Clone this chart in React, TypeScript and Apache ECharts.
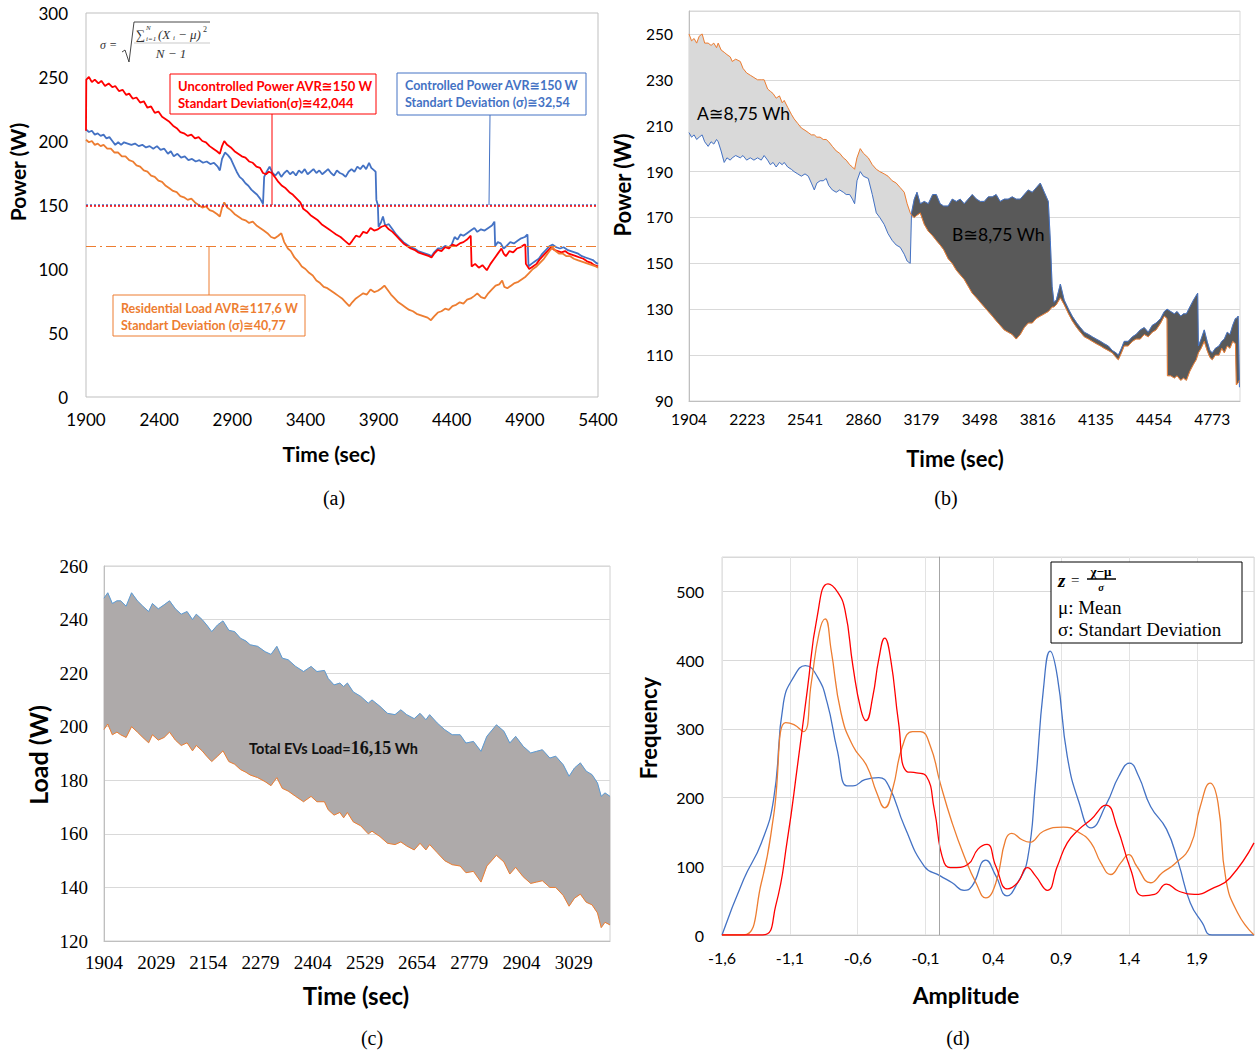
import React, { useEffect, useRef } from 'react';
import * as echarts from 'echarts';

// ---------- (a) ----------
const aControlled: number[][] = [[1900,209],[1920,207],[1940,208],[1960,205],[1980,206],[2000,204],[2020,205],[2040,202],[2060,203],[2080,200],[2100,197],[2120,199],[2140,197],[2160,199],[2185,198],[2210,197],[2235,198],[2260,196],[2285,197],[2310,195],[2335,196],[2360,194],[2385,196],[2410,193],[2435,194],[2460,190],[2480,192],[2500,188],[2525,190],[2550,187],[2575,188],[2600,185],[2625,186],[2650,184],[2675,185],[2700,183],[2725,184],[2750,182],[2775,183],[2800,180],[2815,177],[2830,186],[2850,191],[2870,189],[2890,186],[2910,181],[2930,176],[2950,172],[2970,170],[2990,167],[3010,165],[3030,162],[3050,160],[3070,158],[3090,155],[3110,151],[3114,151],[3118,172],[3135,176],[3155,180],[3175,175],[3195,173],[3215,176],[3235,172],[3255,175],[3275,177],[3295,174],[3315,176],[3335,173],[3355,177],[3375,175],[3395,178],[3415,174],[3435,176],[3455,178],[3475,175],[3495,177],[3515,174],[3535,176],[3555,178],[3575,175],[3595,173],[3615,177],[3635,175],[3655,174],[3675,172],[3695,176],[3715,178],[3735,176],[3755,180],[3775,178],[3795,181],[3815,178],[3835,183],[3850,179],[3870,177],[3880,176],[3885,154],[3895,150],[3900,133],[3915,136],[3930,141],[3945,134],[3970,135],[3995,131],[4020,127],[4045,124],[4070,121],[4095,119],[4120,117],[4145,116],[4170,114],[4195,113],[4220,112],[4245,111],[4262,110],[4280,113],[4305,116],[4330,116],[4355,118],[4380,117],[4400,119],[4420,125],[4440,123],[4460,127],[4480,126],[4505,128],[4530,130],[4555,132],[4575,129],[4600,131],[4625,130],[4650,132],[4675,134],[4692,137],[4697,118],[4715,121],[4735,120],[4755,116],[4775,118],[4800,121],[4825,120],[4850,122],[4875,124],[4900,125],[4918,127],[4925,102],[4945,104],[4970,106],[4995,108],[5020,112],[5045,115],[5070,118],[5090,119],[5115,117],[5140,116],[5165,117],[5190,115],[5215,114],[5240,113],[5265,112],[5290,110],[5315,109],[5340,108],[5365,107],[5385,105],[5400,104]];
const aUncontrolled: number[][] = [[1900,208],[1902,248],[1920,250],[1940,246],[1960,248],[1985,245],[2005,247],[2030,243],[2055,245],[2080,242],[2100,243],[2125,239],[2150,240],[2175,236],[2195,237],[2220,233],[2245,234],[2270,230],[2295,231],[2320,226],[2345,227],[2370,222],[2395,223],[2420,219],[2445,217],[2470,215],[2495,212],[2520,210],[2545,207],[2570,206],[2595,204],[2620,205],[2645,202],[2670,203],[2695,200],[2720,199],[2745,196],[2770,194],[2795,192],[2815,190],[2830,196],[2845,200],[2865,197],[2890,195],[2915,192],[2940,190],[2965,188],[2990,187],[3015,184],[3040,183],[3065,180],[3090,179],[3110,175],[3130,174],[3150,176],[3170,175],[3190,172],[3215,168],[3240,165],[3265,163],[3290,160],[3315,158],[3340,155],[3365,152],[3385,147],[3410,145],[3435,142],[3460,140],[3485,138],[3510,135],[3535,133],[3560,131],[3585,129],[3610,127],[3640,125],[3670,122],[3700,119],[3720,122],[3745,126],[3770,125],[3795,129],[3820,128],[3845,132],[3870,130],[3895,131],[3920,133],[3945,134],[3970,131],[3995,129],[4020,126],[4045,123],[4070,120],[4095,118],[4120,116],[4145,115],[4170,113],[4195,112],[4220,111],[4245,110],[4262,109],[4280,112],[4305,115],[4330,114],[4355,117],[4380,116],[4405,119],[4430,118],[4455,120],[4480,121],[4505,123],[4530,126],[4536,102],[4560,104],[4585,101],[4610,103],[4640,99],[4665,104],[4690,108],[4715,112],[4740,116],[4755,112],[4770,110],[4795,114],[4820,113],[4845,116],[4870,117],[4895,119],[4903,119],[4907,104],[4930,100],[4955,102],[4980,104],[5005,108],[5030,111],[5055,114],[5080,117],[5100,115],[5125,114],[5150,113],[5175,114],[5200,112],[5225,111],[5250,110],[5275,109],[5300,108],[5325,106],[5350,105],[5375,103],[5400,102]];
const aResidential: number[][] = [[1900,201],[1920,199],[1940,200],[1960,197],[1980,198],[2000,196],[2020,197],[2045,194],[2070,194],[2095,191],[2120,191],[2145,188],[2170,188],[2195,185],[2220,184],[2245,181],[2270,180],[2295,177],[2320,176],[2345,173],[2370,172],[2395,169],[2420,168],[2445,165],[2470,163],[2495,161],[2520,160],[2545,157],[2570,156],[2595,154],[2620,155],[2645,152],[2670,150],[2695,148],[2720,149],[2745,146],[2770,145],[2795,143],[2815,141],[2830,148],[2845,152],[2865,148],[2890,146],[2915,143],[2940,141],[2965,139],[2990,138],[3015,136],[3040,137],[3065,134],[3090,132],[3115,130],[3140,128],[3165,125],[3190,124],[3215,126],[3235,128],[3255,121],[3280,116],[3300,114],[3325,109],[3350,106],[3375,102],[3400,100],[3425,97],[3450,95],[3475,91],[3500,89],[3525,86],[3550,85],[3575,83],[3600,81],[3625,79],[3650,77],[3675,74],[3700,71],[3720,74],[3745,77],[3770,79],[3795,81],[3820,80],[3845,84],[3870,82],[3895,83],[3920,85],[3940,87],[3960,84],[3985,80],[4010,77],[4035,74],[4060,72],[4085,70],[4110,68],[4135,67],[4160,65],[4185,64],[4210,63],[4235,62],[4258,60],[4280,63],[4305,66],[4330,67],[4355,69],[4380,68],[4405,71],[4430,72],[4455,74],[4480,73],[4505,76],[4530,77],[4555,79],[4575,81],[4600,78],[4625,77],[4650,81],[4675,84],[4700,87],[4725,88],[4745,91],[4760,86],[4780,85],[4805,87],[4830,89],[4855,90],[4880,92],[4905,94],[4930,97],[4955,100],[4980,102],[5005,105],[5030,108],[5055,112],[5075,115],[5090,117],[5110,114],[5135,112],[5160,112],[5185,110],[5210,110],[5235,108],[5260,107],[5285,106],[5310,105],[5335,104],[5360,103],[5385,102],[5400,101]];
const aAvgControlled = 150.4;
const aAvgUncontrolled = 149.4;
const aAvgResidential = 117.6;

// ---------- (b) ----------
const bTime = [1904,1918,1932,1946,1960,1976,1990,2009,2025,2040,2055,2064,2080,2097,2112,2130,2141,2160,2185,2200,2220,2240,2260,2280,2300,2316,2335,2350,2365,2382,2400,2415,2426,2445,2465,2480,2500,2520,2540,2558,2575,2591,2605,2623,2640,2656,2670,2690,2711,2730,2750,2766,2785,2800,2812,2825,2843,2860,2887,2909,2931,2950,2974,2995,3018,3040,3062,3084,3100,3117,3124,3139,3154,3172,3194,3216,3240,3260,3281,3300,3325,3347,3370,3391,3413,3435,3457,3480,3501,3523,3545,3567,3588,3610,3632,3654,3676,3698,3720,3742,3764,3786,3808,3830,3852,3874,3885,3895,3905,3918,3940,3961,3985,4005,4030,4050,4071,4095,4115,4137,4160,4180,4203,4225,4245,4258,4275,4290,4312,4335,4355,4378,4400,4422,4444,4465,4490,4510,4525,4527,4545,4565,4580,4600,4615,4631,4650,4670,4685,4693,4697,4712,4729,4745,4760,4773,4790,4810,4825,4839,4855,4870,4885,4900,4905,4915,4922];
const bUncontrolled = [250,247,248,246,249,250,246,246,245,246,244,246,243,242,241,240,238,239,238,235,233,232,231,230,230,230,226,225,224,222,223,220,221,218,215,213,211,209,208,207,206,206,205,205,204,204,203,201,199,198,196,195,193,192,191,196,200,198,196,193,191,190,189,188,186,185,183,181,176,172,171,170,171,172,167,164,162,160,158,156,152,150,147,145,143,140,137,135,133,131,129,127,125,123,121,120,119,117,119,122,124,124,126,127,128,129,130,131,131,132,135,132,128,125,122,120,118,117,116,115,114,113,112,111,109,108,111,114,114,116,117,117,119,118,120,121,124,127,126,101,101,100,101,99,100,99,103,106,108,110,111,113,116,112,109,108,110,110,113,111,114,113,116,115,97,98,99];
const bControlled = [207,205,206,204,205,206,203,201,203,202,204,203,199,194,196,195,196,197,196,197,195,196,195,196,195,197,195,193,194,192,194,193,194,192,191,190,189,188,189,188,185,182,185,186,186,187,184,182,181,182,181,180,180,178,176,186,190,188,187,180,172,170,167,163,160,158,157,154,151,150,172,178,181,176,177,176,180,180,176,175,175,178,177,178,176,178,180,178,177,177,179,179,180,177,178,178,179,178,178,180,182,181,183,185,181,177,160,140,133,134,141,134,130,127,124,122,120,119,118,117,116,115,114,112,111,110,113,116,116,118,119,121,122,120,123,124,126,129,130,130,129,128,129,127,128,128,131,134,136,137,114,117,121,116,112,111,113,114,116,117,120,119,123,126,126,127,96];
const bTickLabels = [1904, 2223, 2541, 2860, 3179, 3498, 3816, 4135, 4454, 4773];

// ---------- (c) ----------
const cTime = [1904,1913,1924,1935,1944,1957,1970,1984,1997,2011,2020,2034,2048,2061,2075,2089,2103,2116,2125,2139,2150,2162,2176,2189,2203,2217,2231,2244,2254,2272,2290,2304,2318,2331,2345,2363,2382,2400,2414,2432,2441,2455,2469,2478,2487,2501,2519,2537,2546,2565,2583,2601,2615,2629,2647,2661,2675,2684,2702,2720,2738,2757,2771,2789,2807,2821,2844,2862,2876,2890,2908,2926,2940,2954,2972,2986,3004,3018,3031,3045,3059,3073,3086,3095,3104,3116];
const cTotal = [248,250,246,247,247,245,250,247,245,243,246,244,245.5,247,244,242,243,240,242,240,238,235.5,238,239.5,236,235.5,233,232,230.6,230,228,227,230,225.6,225,222.5,220.6,222.5,220.6,221,218,215.6,216.3,215,216.3,213,211.3,208.8,210,207.6,205,204.5,206.3,204.5,203,205,202.6,204.5,201.4,198.9,197,197,193.9,194.5,190.8,196.4,200.7,198.3,193.9,196.4,192.7,190.2,190.8,191.4,188.3,189,185.8,181.5,184.6,186.5,183.4,182.1,179,174,175.3,174];
const cResidential = [199,201,197,198,197,196,200,198,196,194,197,195,196,198,195,193,194,191,193,191,189,187,189,191,187,186,184,183,182,181,179.5,178,181,177,176,174,172,174,172,172,169,167,168,166,168,164.5,163,160,161,159,156.5,156,157,155.5,154,156.5,154,156,153,150,148.5,148,145.5,146,142,148,152,149.5,145,147.5,144,141.5,142,142.5,140,140,137,133,136,137.5,134.5,133.5,130.5,125,127,126];

// ---------- (d) ----------
const dControlled: number[][] = [[-1.6,0],[-1.44,81],[-1.31,134],[-1.22,197],[-1.147,338],[-1.07,376],[-0.986,392],[-0.898,376],[-0.825,338],[-0.752,270],[-0.679,217],[-0.635,217],[-0.547,226],[-0.445,229],[-0.372,217],[-0.255,158],[-0.109,100],[0.008,86],[0.096,76],[0.184,65],[0.242,71],[0.344,109],[0.418,86],[0.5,57],[0.578,76],[0.651,110],[0.71,221],[0.768,357],[0.818,413],[0.871,376],[0.944,260],[1.032,192],[1.119,156],[1.236,192],[1.324,231],[1.403,250],[1.47,231],[1.558,187],[1.675,154],[1.763,105],[1.85,47],[1.938,18],[2.01,0],[2.32,0]];
const dResidential: number[][] = [[-1.6,0],[-1.44,0],[-1.31,76],[-1.22,173],[-1.132,309],[-1.07,306],[-1.0,296],[-0.942,367],[-0.884,440],[-0.84,460],[-0.796,415],[-0.723,323],[-0.635,275],[-0.533,246],[-0.46,207],[-0.401,185],[-0.343,212],[-0.27,275],[-0.196,296],[-0.138,296],[-0.065,275],[0.008,221],[0.096,163],[0.184,115],[0.271,76],[0.344,54],[0.418,76],[0.49,139],[0.535,148],[0.608,139],[0.666,135],[0.768,151],[0.915,157],[1.032,149],[1.119,134],[1.192,105],[1.265,88],[1.338,105],[1.397,117],[1.456,100],[1.558,76],[1.646,91],[1.733,103],[1.85,129],[1.924,187],[1.997,221],[2.055,192],[2.113,81],[2.2,32],[2.32,0]];
const dUncontrolled: number[][] = [[-1.6,0],[-1.3,0],[-1.205,42],[-1.118,139],[-1.044,246],[-0.971,357],[-0.898,464],[-0.819,511],[-0.752,500],[-0.694,473],[-0.635,391],[-0.577,328],[-0.539,312],[-0.489,347],[-0.445,401],[-0.401,432],[-0.357,401],[-0.299,309],[-0.24,238],[-0.167,236],[-0.094,231],[-0.036,183],[0.037,105],[0.11,98],[0.213,103],[0.286,125],[0.353,132],[0.418,100],[0.505,67],[0.578,76],[0.651,98],[0.71,86],[0.798,65],[0.871,100],[0.944,134],[1.032,154],[1.119,168],[1.23,189],[1.309,158],[1.412,95],[1.5,57],[1.587,59],[1.675,74],[1.763,64],[1.88,59],[2.026,69],[2.143,83],[2.32,134]];

const SANS = 'Lato, "Open Sans", "DejaVu Sans", sans-serif';
const SERIF = '"Liberation Serif", "DejaVu Serif", serif';
const BLUE = '#4472c4';
const ORANGE = '#ed7d31';
const RED = '#ff0000';

function txt(x: number, y: number, text: string, o: any = {}) {
  return {
    type: 'text', x, y, z: 100, rotation: o.rotation || 0,
    style: {
      text, fill: o.fill || '#000', fontSize: o.size || 14, fontWeight: o.weight || 'normal',
      fontStyle: o.fstyle || 'normal', fontFamily: o.family || SANS,
      align: o.align || 'left', verticalAlign: o.va || 'middle',
    },
  };
}
function box(x: number, y: number, w: number, h: number, stroke: string) {
  return { type: 'rect', z: 99, shape: { x, y, width: w, height: h }, style: { fill: '#fff', stroke, lineWidth: 1 } };
}
function seg(x1: number, y1: number, x2: number, y2: number, stroke: string, lw = 1) {
  return { type: 'line', z: 99, shape: { x1, y1, x2, y2 }, style: { stroke, lineWidth: lw } };
}

// Split the band between two series (same sample times) into runs where one stays above the other.
function bandRuns(times: number[], upper: number[], lower: number[]) {
  const runs: { pos: boolean; pts: number[][] }[] = [];
  let up: number[][] = [];
  let lo: number[][] = [];
  let sign: boolean | null = null;
  const flush = () => {
    if (up.length >= 2 && sign !== null) runs.push({ pos: sign, pts: [...up, ...lo.slice().reverse()] });
  };
  for (let i = 0; i < times.length; i++) {
    const d = upper[i] - lower[i];
    if (i > 0) {
      const dp = upper[i - 1] - lower[i - 1];
      if (dp * d < 0) {
        const f = dp / (dp - d);
        const tc = times[i - 1] + f * (times[i] - times[i - 1]);
        const vc = upper[i - 1] + f * (upper[i] - upper[i - 1]);
        up.push([tc, vc]);
        lo.push([tc, vc]);
        flush();
        up = [[tc, vc]];
        lo = [[tc, vc]];
        sign = d > 0;
      }
    }
    if (sign === null && d !== 0) sign = d > 0;
    up.push([times[i], upper[i]]);
    lo.push([times[i], lower[i]]);
  }
  flush();
  return runs;
}

function bandSeries(xi: number, yi: number, times: number[], upper: number[], lower: number[], colorPos: string, colorNeg: string) {
  const runs = bandRuns(times, upper, lower);
  const data = runs.map((r, k) => {
    const ts = r.pts.map((p) => p[0]);
    const vs = r.pts.map((p) => p[1]);
    return [Math.min(...ts), Math.min(...vs), Math.max(...ts), Math.max(...vs), k];
  });
  return {
    type: 'custom', xAxisIndex: xi, yAxisIndex: yi, silent: true, z: 1,
    encode: { x: [0, 2], y: [1, 3] },
    data,
    renderItem: (params: any, api: any) => {
      const r = runs[api.value(4)];
      const color = r.pos ? colorPos : colorNeg;
      return {
        type: 'polygon',
        shape: { points: r.pts.map((p) => api.coord(p)) },
        style: { fill: color, stroke: color, lineWidth: 0.4 },
      };
    },
  };
}

const ROT = Math.PI / 2;

function buildOption() {
  const lbl = (size: number, margin: number, family = SANS, extra: any = {}) => ({
    fontSize: size, color: '#000', fontFamily: family, margin, formatter: (v: number) => String(v), ...extra,
  });
  const noTick = { show: false };

  return {
    animation: false,
    backgroundColor: '#fff',
    grid: [
      { left: 86, top: 13, width: 512, height: 384, show: true, borderColor: '#bfbfbf', borderWidth: 1, outerBoundsMode: 'none' },
      { left: 689, top: 11, width: 551, height: 390, show: true, borderColor: '#d9d9d9', borderWidth: 1, outerBoundsMode: 'none' },
      { left: 104, top: 566, width: 506, height: 375, show: true, borderColor: '#d0d0d0', borderWidth: 1, outerBoundsMode: 'none' },
      { left: 722, top: 557, width: 532, height: 378, show: true, borderColor: '#d9d9d9', borderWidth: 1, outerBoundsMode: 'none' },
    ],
    xAxis: [
      { type: 'value', gridIndex: 0, min: 1900, max: 5400, interval: 500, axisLine: { show: false }, axisTick: noTick, splitLine: { show: false }, axisLabel: lbl(17, 14) },
      { type: 'value', gridIndex: 1, min: 1904, max: 4925, axisLine: { show: true, lineStyle: { color: '#bfbfbf' } }, axisTick: noTick, splitLine: { show: false }, axisLabel: lbl(15.5, 10, SANS, { customValues: bTickLabels }) },
      { type: 'value', gridIndex: 2, min: 1904, max: 3116, interval: 125, axisLine: { show: true, lineStyle: { color: '#bfbfbf' } }, axisTick: noTick, splitLine: { show: false }, axisLabel: lbl(19, 12, SERIF, { formatter: (v: number) => ((v - 1904) % 125 === 0 ? String(v) : '') }) },
      { type: 'value', gridIndex: 3, min: -1.6, max: 2.32, interval: 0.5, axisLine: { show: true, lineStyle: { color: '#bfbfbf' } }, axisTick: noTick, splitLine: { show: true, lineStyle: { color: '#e3e3e3' } }, axisLabel: lbl(16, 14, SANS, { formatter: (v: number) => { const k = (v + 1.6) / 0.5; if (Math.abs(k - Math.round(k)) > 1e-6) return ''; return v.toFixed(1).replace('.', ','); } }) },
    ],
    yAxis: [
      { type: 'value', gridIndex: 0, min: 0, max: 300, interval: 50, axisLine: { show: false }, axisTick: noTick, splitLine: { show: false }, axisLabel: lbl(17, 18) },
      { type: 'value', gridIndex: 1, min: 90, max: 260, interval: 20, axisLine: { show: true, lineStyle: { color: '#bfbfbf' } }, axisTick: noTick, splitLine: { show: true, lineStyle: { color: '#d9d9d9' } }, axisLabel: lbl(15.5, 16, SANS, { formatter: (v: number) => ((v - 90) % 20 === 0 ? String(v) : '') }) },
      { type: 'value', gridIndex: 2, min: 120, max: 260, interval: 20, axisLine: { show: true, lineStyle: { color: '#bfbfbf' } }, axisTick: noTick, splitLine: { show: true, lineStyle: { color: '#d9d9d9' } }, axisLabel: lbl(19, 16, SERIF) },
      { type: 'value', gridIndex: 3, min: 0, max: 550, interval: 100, axisLine: { show: true, lineStyle: { color: '#bfbfbf' } }, axisTick: noTick, splitLine: { show: true, lineStyle: { color: '#d9d9d9' } }, axisLabel: lbl(16, 18, SANS, { formatter: (v: number) => (v % 100 === 0 ? String(v) : '') }) },
    ],
    series: [
      // (a)
      { type: 'line', name: 'Controlled Power', xAxisIndex: 0, yAxisIndex: 0, data: aControlled, symbol: 'none', lineStyle: { color: BLUE, width: 1.8 }, itemStyle: { color: BLUE },
        markLine: { silent: true, symbol: 'none', label: { show: false }, lineStyle: { color: BLUE, type: [2, 2], width: 1.5 }, data: [{ yAxis: aAvgControlled }] } },
      { type: 'line', name: 'Uncontrolled Power', xAxisIndex: 0, yAxisIndex: 0, data: aUncontrolled, symbol: 'none', lineStyle: { color: RED, width: 1.8 }, itemStyle: { color: RED },
        markLine: { silent: true, symbol: 'none', label: { show: false }, lineStyle: { color: RED, type: [2, 2], width: 1.5 }, data: [{ yAxis: aAvgUncontrolled }] } },
      { type: 'line', name: 'Residential Load', xAxisIndex: 0, yAxisIndex: 0, data: aResidential, symbol: 'none', lineStyle: { color: ORANGE, width: 1.8 }, itemStyle: { color: ORANGE },
        markLine: { silent: true, symbol: 'none', label: { show: false }, lineStyle: { color: ORANGE, type: [10, 4, 2, 4], width: 1.2 }, data: [{ yAxis: aAvgResidential }] } },
      // (b)
      bandSeries(1, 1, bTime, bUncontrolled, bControlled, '#d9d9d9', '#595959'),
      { type: 'line', name: 'Controlled', xAxisIndex: 1, yAxisIndex: 1, data: bTime.map((t, i) => [t, bControlled[i]]), symbol: 'none', z: 3, lineStyle: { color: BLUE, width: 1 } },
      { type: 'line', name: 'Uncontrolled', xAxisIndex: 1, yAxisIndex: 1, data: bTime.map((t, i) => [t, bUncontrolled[i]]), symbol: 'none', z: 3, lineStyle: { color: ORANGE, width: 1 } },
      // (c)
      bandSeries(2, 2, cTime, cTotal, cResidential, '#aeaaaa', '#aeaaaa'),
      { type: 'line', name: 'Total', xAxisIndex: 2, yAxisIndex: 2, data: cTime.map((t, i) => [t, cTotal[i]]), symbol: 'none', z: 3, lineStyle: { color: '#5b9bd5', width: 1 } },
      { type: 'line', name: 'Residential', xAxisIndex: 2, yAxisIndex: 2, data: cTime.map((t, i) => [t, cResidential[i]]), symbol: 'none', z: 3, lineStyle: { color: ORANGE, width: 1 } },
      // (d)
      { type: 'line', name: 'Controlled', xAxisIndex: 3, yAxisIndex: 3, data: dControlled, symbol: 'none', smooth: 0.5, lineStyle: { color: BLUE, width: 1.3 },
        markLine: { silent: true, symbol: 'none', label: { show: false }, lineStyle: { color: '#a6a6a6', type: 'solid', width: 1 }, data: [{ xAxis: 0 }] } },
      { type: 'line', name: 'Residential', xAxisIndex: 3, yAxisIndex: 3, data: dResidential, symbol: 'none', smooth: 0.5, lineStyle: { color: ORANGE, width: 1.3 } },
      { type: 'line', name: 'Uncontrolled', xAxisIndex: 3, yAxisIndex: 3, data: dUncontrolled, symbol: 'none', smooth: 0.5, lineStyle: { color: RED, width: 1.3 } },
    ],
    graphic: {
      elements: [
        // (a) formula
        txt(100, 45, 'σ =', { family: SERIF, fstyle: 'italic', size: 12, fill: '#333' }),
        { type: 'polyline', z: 99, shape: { points: [[122, 52], [125, 50], [129, 62], [134, 22], [210, 22]] }, style: { stroke: '#333', lineWidth: 0.9, fill: null } },
        txt(136, 34, '∑', { family: SERIF, size: 13, fill: '#333' }),
        txt(146, 28, 'N', { family: SERIF, fstyle: 'italic', size: 7, fill: '#333' }),
        txt(146, 39, 'i=1', { family: SERIF, fstyle: 'italic', size: 7, fill: '#333' }),
        txt(158, 34, '(X', { family: SERIF, fstyle: 'italic', size: 13, fill: '#333' }),
        txt(173, 38, 'i', { family: SERIF, fstyle: 'italic', size: 7, fill: '#333' }),
        txt(178, 34, '− μ)', { family: SERIF, fstyle: 'italic', size: 13, fill: '#333' }),
        txt(203, 29, '2', { family: SERIF, size: 8, fill: '#333' }),
        seg(134, 43, 210, 43, '#bbb', 0.8),
        txt(171, 53, 'N − 1', { family: SERIF, fstyle: 'italic', size: 13, fill: '#333', align: 'center' }),
        // (a) annotation boxes
        seg(272, 114, 272, 205, RED, 1),
        box(170, 74, 206, 40, RED),
        txt(178, 86, 'Uncontrolled Power AVR≅150 W', { fill: RED, weight: 'bold', size: 13 }),
        txt(178, 103, 'Standart Deviation(σ)≅42,044', { fill: RED, weight: 'bold', size: 13 }),
        seg(490, 115, 489, 205, BLUE, 1),
        box(397, 73, 189, 42, BLUE),
        txt(405, 85, 'Controlled Power AVR≅150 W', { fill: BLUE, weight: 'bold', size: 12.5 }),
        txt(405, 102, 'Standart Deviation (σ)≅32,54', { fill: BLUE, weight: 'bold', size: 12.5 }),
        seg(209, 246, 209, 295, ORANGE, 1),
        box(113, 295, 192, 41, ORANGE),
        txt(121, 308, 'Residential Load AVR≅117,6 W', { fill: ORANGE, weight: 'bold', size: 12.5 }),
        txt(121, 325, 'Standart Deviation (σ)≅40,77', { fill: ORANGE, weight: 'bold', size: 12.5 }),
        // (a) titles
        txt(17, 172, 'Power (W)', { rotation: ROT, align: 'center', weight: 'bold', size: 21 }),
        txt(329, 453, 'Time (sec)', { align: 'center', weight: 'bold', size: 21 }),
        txt(334, 498, '(a)', { align: 'center', family: SERIF, size: 20 }),
        // (b)
        txt(697, 113, 'A≅8,75 Wh', { size: 17.5 }),
        txt(952, 234, 'B≅8,75 Wh', { size: 17.5 }),
        txt(622, 185, 'Power (W)', { rotation: ROT, align: 'center', weight: 'bold', size: 22 }),
        txt(955, 458, 'Time (sec)', { align: 'center', weight: 'bold', size: 22 }),
        txt(946, 498, '(b)', { align: 'center', family: SERIF, size: 20 }),
        // (c)
        { type: 'text', x: 249, y: 748, z: 100, style: { text: '{a|Total EVs Load=}{b|16,15}{a| Wh}', verticalAlign: 'middle', rich: { a: { fontSize: 14.5, fontWeight: 'bold', fontFamily: SANS, fill: '#111' }, b: { fontSize: 18, fontWeight: 'bold', fontFamily: SERIF, fill: '#111' } } } },
        txt(38, 755, 'Load (W)', { rotation: ROT, align: 'center', weight: 'bold', size: 25 }),
        txt(356, 995, 'Time (sec)', { align: 'center', weight: 'bold', size: 24 }),
        txt(372, 1038, '(c)', { align: 'center', family: SERIF, size: 20 }),
        // (d)
        box(1051, 562, 191, 81, '#000'),
        txt(1058, 580, 'z', { family: SERIF, fstyle: 'italic', weight: 'bold', size: 19 }),
        txt(1071, 580, '=', { family: SERIF, size: 15 }),
        txt(1101, 571, 'χ−μ', { family: SERIF, size: 13, weight: 'bold', align: 'center' }),
        seg(1087, 579, 1116, 579, '#000', 1.5),
        txt(1101, 587, 'σ', { family: SERIF, fstyle: 'italic', weight: 'bold', size: 10.5, align: 'center' }),
        txt(1058, 607, 'μ: Mean', { family: SERIF, size: 19 }),
        txt(1058, 629, 'σ: Standart Deviation', { family: SERIF, size: 19 }),
        txt(648, 728, 'Frequency', { rotation: ROT, align: 'center', weight: 'bold', size: 22 }),
        txt(966, 995, 'Amplitude', { align: 'center', weight: 'bold', size: 23 }),
        txt(958, 1038, '(d)', { align: 'center', family: SERIF, size: 20 }),
      ],
    },
  };
}

export default function App() {
  const ref = useRef<HTMLDivElement>(null);
  useEffect(() => {
    if (!ref.current) return;
    const chart = echarts.init(ref.current, undefined, { renderer: 'svg' });
    chart.setOption(buildOption() as any);
    return () => chart.dispose();
  }, []);
  return (
    <div
      ref={ref}
      style={{ position: 'absolute', left: 0, top: 0, width: 1255, height: 1055, background: '#fff' }}
    />
  );
}
